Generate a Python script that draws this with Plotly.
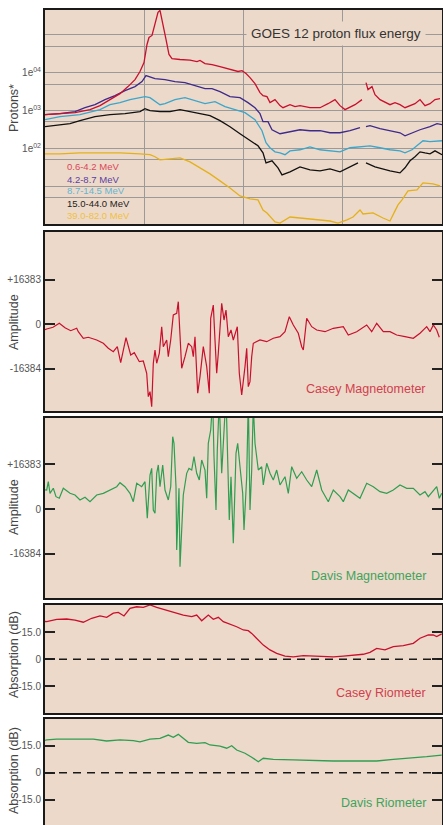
import plotly.graph_objects as go

# ---------------- DATA ----------------
# Panel 1: GOES 12 proton flux (time in arbitrary units 0..397)
red_t = [0,15,30,45,55,65,75,83,90,95,99,102,104,107,110,113,115,117,119,121,124,127,135,145,152,155,160,167,175,185,193,197,201,205,210,215,218,222,225,230,235,238,245,250,255,265,275,283,290,295,300,310,317,319,321,323,327,330,335,345,350,355,360,365,370,375,380,385,390,395]
red_v = [778,828,880,1057,1349,1945,2806,4305,6600,10770,18660,55980,85900,97000,190000,395000,446000,258000,158000,76000,30400,23800,22400,21700,19800,21100,17500,16500,14600,12200,10800,11400,9520,7460,5170,2990,2490,2340,1620,1950,1350,1190,1430,1270,1350,1190,1190,1520,1950,1350,1060,1430,1950,None,5500,3580,4300,2640,1950,1430,1620,1430,1190,1350,1520,1950,1350,1520,1950,2070]

pur_t = [0,15,30,40,50,60,70,80,90,97,101,105,110,120,130,140,150,160,167,175,185,195,203,210,215,218,223,227,235,240,247,255,265,275,285,295,305,315,319,321,325,335,345,355,360,367,375,385,392,397]
pur_v = [778,828,935,1190,1430,1950,2490,3370,4300,5850,8430,7930,7020,6600,5850,5500,4580,3810,3810,3170,2340,2200,1620,1190,828,508,508,311,244,259,293,311,293,293,259,259,293,352,None,374,397,331,293,259,216,259,311,374,450,423]

blu_t = [0,15,35,55,65,75,85,95,100,105,115,120,130,140,150,160,170,180,190,200,210,217,221,225,230,235,240,245,255,265,275,285,295,305,315,325,335,345,355,360,367,373,378,385,397]
blu_v = [574,689,778,1057,1430,1620,1950,2200,2340,2200,1430,1520,1950,2200,1830,1520,1720,1270,1060,880,574,293,141,104,81,76,68,86,92,110,92,86,81,104,110,117,104,92,86,76,92,125,159,150,159]

blk_t = [0,10,25,35,50,65,80,95,100,105,115,125,135,145,155,165,175,185,195,205,213,218,221,227,233,237,245,255,265,275,285,295,305,313,317,321,330,345,355,360,365,370,375,380,385,390,397]
blk_v = [374,397,450,540,689,778,828,935,1122,994,935,935,1057,935,828,733,540,374,244,159,117,76,41.5,46.9,30.6,19.9,24,32.5,27,25.5,28.8,24,32.5,41.5,None,41.5,32.5,25.5,22.5,30.6,46.9,59.9,81,76,72,86,68]

gld_t = [0,15,35,55,75,95,105,110,115,125,135,145,155,165,175,185,195,205,213,218,222,230,235,245,255,265,275,285,293,302,308,315,318,328,338,345,350,353,357,360,363,372,378,388,395]
gld_v = [72,72,76,76,76,72,68,60,49.9,53,56.3,44.1,30.6,21.2,13.8,9.0,5.53,4.6,4.33,2.35,1.96,1.13,1.06,1.53,1.44,1.36,1.28,1.20,1.06,1.28,1.53,2.35,1.84,1.96,1.44,1.20,2.22,3.19,4.33,5.88,7.5,7.98,12.2,11.5,10.2]

flux_names = ["0.6-4.2 MeV", "4.2-8.7 MeV", "8.7-14.5 MeV", "15.0-44.0 MeV", "39.0-82.0 MeV"]
flux_tickvals = [100, 1000, 10000]
flux_ticktext = ["1e<sup>02</sup>", "1e<sup>03</sup>", "1e<sup>04</sup>"]
flux_gridvals = [5, 10, 50, 100, 500, 1000, 5000, 10000, 50000, 100000]

# Panel 2: Casey magnetometer
cmag_t = [0,1.7,8,14.3,20,25.7,31.7,33.3,38.3,43.3,51.7,58.3,63.3,68.3,72.3,75.7,81,85.7,89.3,94.3,98.3,101.7,103.3,105,106.7,108.3,110,111.7,114.3,116.7,118.3,121.7,123.3,125.7,128.3,131.7,133.3,135,136.7,140,143.3,146.7,148.3,150,152.7,155,158.3,161.7,164.3,165.7,168.3,170,171.7,173.3,176.7,179,181,183.3,186,188.3,192.3,194.3,196.7,200,201.7,203.3,205,206.7,208.3,215,221.7,228.3,235,240,244.3,248.3,253.3,256.7,258.3,261.7,266.7,271.7,280,288.3,298.3,303.3,311.7,321.7,326.7,331.7,338.3,345,351.7,360,368.3,375,381.7,385,388.3,391.7,394.3]
cmag_v = [-2000,-1730,-1100,370,-1250,-2360,-1470,-2720,-5150,-4780,-5780,-6990,-8830,-10080,-8240,-14130,-4930,-11300,-10450,-13760,-13500,-18030,-26640,-24800,-30320,-14350,-9460,-14350,-10670,-880,-8240,-5780,-11920,-5780,3420,4050,8320,-5780,-16190,-11920,-6990,-8240,-11920,-4560,-25390,-19280,-8240,-15600,-25390,2210,7100,-5780,-18030,-10670,7730,1580,5260,-4560,-2100,-5780,-880,-18030,-26020,-15600,-8830,-22960,-21120,-11920,-6990,-5780,-6400,-5150,-4560,-2720,2800,-260,-3310,-8240,-9460,2210,-880,-2100,-2720,-1470,-880,-3940,-2720,-260,-2720,370,-2720,-2720,-3940,-4560,-5150,-3310,-880,-2720,-260,-2100,-4780]

# Panel 3: Davis magnetometer
dmag_t = [0,1.7,3.3,5,8.3,11,14.3,18.3,25,30,35,40,45,51.7,58.3,65,71.7,75,80,85,88.3,91.7,96.7,100,102.3,105,106.7,108.3,110,111.7,113.3,115,117.7,120,123.3,125.7,127.7,129,131,131.7,134,135,136.7,138.3,141.7,144,146.7,149,151.7,154.3,156.7,160,161.7,163.3,165.7,167.7,169,171,172.3,174.3,176.7,179,181,182.7,184.3,186,188.3,191,192.7,195,197.7,199,201.7,203.3,205,206.7,208.3,210,211.7,213.3,216.7,218.3,221.7,225,228.3,231.7,235,240,243.3,246.7,251.7,256.7,261.7,266.7,271.7,276.7,283.3,288.3,295,298.3,303.3,308.3,315,321.7,328.3,335,341.7,348.3,355,361.7,368.3,375,380,383.3,388.3,391.7,394.3,396.7]
dmag_v = [7000,6960,10010,5750,7590,4510,3920,7590,5750,5130,3300,4290,2680,5130,5750,6960,8170,9640,8170,5750,2680,9420,8170,10010,-3410,12460,14920,-370,-1580,13080,16130,8170,16130,6960,3300,8170,26500,24080,8170,-15030,7590,-21150,-6490,5130,13080,14920,14290,19170,13080,10630,17960,14290,3920,24080,28950,40000,19170,-370,21620,40000,13080,26500,42000,17960,-4030,11840,-12570,20410,24080,15500,5750,-7700,11840,40000,-370,14290,38000,24080,19170,14290,15500,8800,16750,13080,10630,14290,8800,11840,5750,15500,11250,13670,10630,8170,14290,6960,2680,6960,4510,2680,6960,5750,3920,9420,8170,6340,5750,6960,8800,7590,7590,5130,6340,4510,6960,8170,3920,5750]

# Panel 4: Casey riometer (dB)
crio_t = [0,1.7,11.7,21.7,30,38.3,46.7,55,61.7,68.3,73.3,79,85,91.7,98.3,105,111.7,118.3,125,131.7,138.3,146.7,151.7,156.7,163.3,168.3,173.3,178.3,185,191.7,198.3,203.3,206.7,211.7,218.3,225,231.7,240,248.3,258.3,268.3,278.3,288.3,298.3,308.3,318.3,325,331.7,340,348.3,358.3,368.3,375,383.3,388.3,391.7,396.7]
crio_v = [21.0,20.9,22.2,22.4,21.8,20.6,22.8,24.1,23.3,25.6,26.1,24.1,28.3,29.2,28.9,30.2,28.9,27.8,27.0,25.6,24.6,23.7,24.6,21.4,24.6,22.2,23.3,20.9,19.6,18.1,16.3,15.9,14.4,11.7,7.9,5.2,3.3,1.8,1.4,2.0,1.8,1.8,1.4,1.8,2.4,2.8,3.9,6.1,5.2,7.0,7.6,8.9,11.7,13.5,13.5,12.6,14.1]

# Panel 5: Davis riometer (dB)
drio_t = [0,1.7,11.7,21.7,35,48.3,61.7,75,88.3,95,105,115,123.3,128.3,133.3,136.7,143.3,151.7,160,165,175,181.7,186.7,191.7,200,206.7,213.3,218.3,228.3,248.3,268.3,288.3,308.3,331.7,348.3,365,381.7,396.7]
drio_v = [18.0,18.2,18.7,18.6,18.7,18.6,17.6,18.2,17.8,17.1,18.6,19.1,20.9,19.7,21.3,19.7,16.9,16.3,16.7,15.4,14.8,13.6,15.0,12.6,10.8,8.6,6.1,8.0,7.4,7.1,6.7,6.5,6.5,6.5,7.4,8.0,8.9,9.8]

mag_tickvals = [-16384, 0, 16383]
mag_ticktext = ["-16384", "0", "+16383"]
rio_tickvals = [-15, 0, 15]
rio_ticktext = ["-15.0", "0", "15.0"]

# ---------------- STYLE ----------------
W, H = 443, 825
BG = "#EDD9C9"
FONT = "Liberation Sans, Arial, sans-serif"
RED, PUR, BLU, BLK, GLD, GRN = "#C8102E", "#3D2A8C", "#3BA6CC", "#111111", "#E3B11C", "#2E9E52"
LBL_COL = ["#D9475A", "#5A3FA3", "#63B5D3", "#222222", "#EFC143"]
XL, XR = 45, 442

def yd(top, bot):
    return [max(0, 1 - bot / H), 1 - top / H]

panels = [(10, 224), (232, 411), (418, 598), (605, 713), (719, 825)]
xdom = [XL / W, XR / W]

fig = go.Figure()
for t, v, c in [(gld_t, gld_v, GLD), (blk_t, blk_v, BLK), (blu_t, blu_v, BLU), (pur_t, pur_v, PUR), (red_t, red_v, RED)]:
    fig.add_trace(go.Scatter(x=t, y=v, mode="lines", line=dict(color=c, width=1.3), xaxis="x", yaxis="y", connectgaps=False, showlegend=False))
fig.add_trace(go.Scatter(x=cmag_t, y=cmag_v, mode="lines", line=dict(color=RED, width=1.2), xaxis="x2", yaxis="y2", showlegend=False))
fig.add_trace(go.Scatter(x=dmag_t, y=dmag_v, mode="lines", line=dict(color=GRN, width=1.2), xaxis="x3", yaxis="y3", showlegend=False))
fig.add_trace(go.Scatter(x=crio_t, y=crio_v, mode="lines", line=dict(color=RED, width=1.3), xaxis="x4", yaxis="y4", showlegend=False))
fig.add_trace(go.Scatter(x=drio_t, y=drio_v, mode="lines", line=dict(color=GRN, width=1.3), xaxis="x5", yaxis="y5", showlegend=False))

axline = dict(showline=True, linewidth=2, linecolor="#1a1a1a", zeroline=False)
tickfont = dict(family=FONT, size=10, color="#555555")

lay = dict(width=W, height=H, margin=dict(l=0, r=0, t=0, b=0),
           paper_bgcolor="white", plot_bgcolor=BG, font=dict(family=FONT), showlegend=False)

for i in range(1, 6):
    key = "xaxis" if i == 1 else f"xaxis{i}"
    ax = dict(domain=xdom, range=[0, XR - XL], anchor="y" if i == 1 else f"y{i}",
              showticklabels=False, ticks="", **axline)
    if i == 1:
        ax.update(showgrid=True, gridcolor="#9c9a98", gridwidth=1, tickvals=[99, 198, 297], mirror=True)
    else:
        ax.update(showgrid=False, mirror=True)
    if i == 5:
        ax.update(side="top", mirror=False)
    lay[key] = ax

lay["yaxis"] = dict(domain=yd(*panels[0]), anchor="x", type="log", range=[0, 5.66],
                    tickvals=flux_tickvals, ticktext=flux_ticktext, ticks="",
                    showgrid=False, mirror=True,
                    minor=dict(tickvals=flux_gridvals, showgrid=True, gridcolor="#9c9a98", gridwidth=1, ticks=""),
                    tickfont=tickfont, **axline)
ranges = {2: [-31920, 33980], 3: [-32620, 33350], 4: [-29.83, 30.17], 5: [-29.06, 29.83]}
for i in range(2, 6):
    tv, tt = (mag_tickvals, mag_ticktext) if i <= 3 else (rio_tickvals, rio_ticktext)
    lay[f"yaxis{i}"] = dict(domain=yd(*panels[i - 1]), anchor=f"x{i}", range=ranges[i],
                            tickvals=tv, ticktext=tt, ticks="inside", ticklen=10, tickwidth=2,
                            tickcolor="#222222", mirror="ticks", showgrid=False,
                            tickfont=tickfont, **axline)
fig.update_layout(**lay)

for i in (4, 5):
    fig.add_shape(type="line", xref=f"x{i} domain", yref=f"y{i}", x0=0, x1=1, y0=0, y1=0,
                  line=dict(color="#1a1a1a", width=1.5, dash="8px,6px"))

def py(px):
    return 1 - px / H

ann = []
ann.append(dict(text="GOES 12 proton flux energy", x=336 / W, y=py(33), xref="paper", yref="paper",
                showarrow=False, font=dict(family=FONT, size=13.5, color="#333333"),
                bgcolor=BG, borderpad=4, xanchor="center", yanchor="middle"))
for k, (name, col) in enumerate(zip(flux_names, LBL_COL)):
    ann.append(dict(text=name, x=65 / W, y=py(167 + 12 * k), xref="paper", yref="paper",
                    showarrow=False, font=dict(family=FONT, size=9.5, color=col),
                    xanchor="left", yanchor="middle"))
for txt, yc in [("Protons*", 108), ("Amplitude", 322), ("Amplitude", 507), ("Absorption (dB)", 655), ("Absorption (dB)", 771)]:
    ann.append(dict(text=txt, x=14 / W, y=py(yc), xref="paper", yref="paper", textangle=-90,
                    showarrow=False, font=dict(family=FONT, size=12.5, color="#444444"),
                    xanchor="center", yanchor="middle"))
for txt, col, yc in [("Casey Magnetometer", "#D0404F", 389), ("Davis Magnetometer", "#3DA35D", 576),
                     ("Casey Riometer", "#D0404F", 693), ("Davis Riometer", "#3DA35D", 803)]:
    ann.append(dict(text=txt, x=428 / W, y=py(yc), xref="paper", yref="paper",
                    showarrow=False, font=dict(family=FONT, size=12.5, color=col),
                    xanchor="right", yanchor="middle"))
fig.update_layout(annotations=ann)

fig.write_html("out.html", config={"displayModeBar": False},
               post_script="document.body.style.margin='0';document.body.style.overflow='hidden';")
